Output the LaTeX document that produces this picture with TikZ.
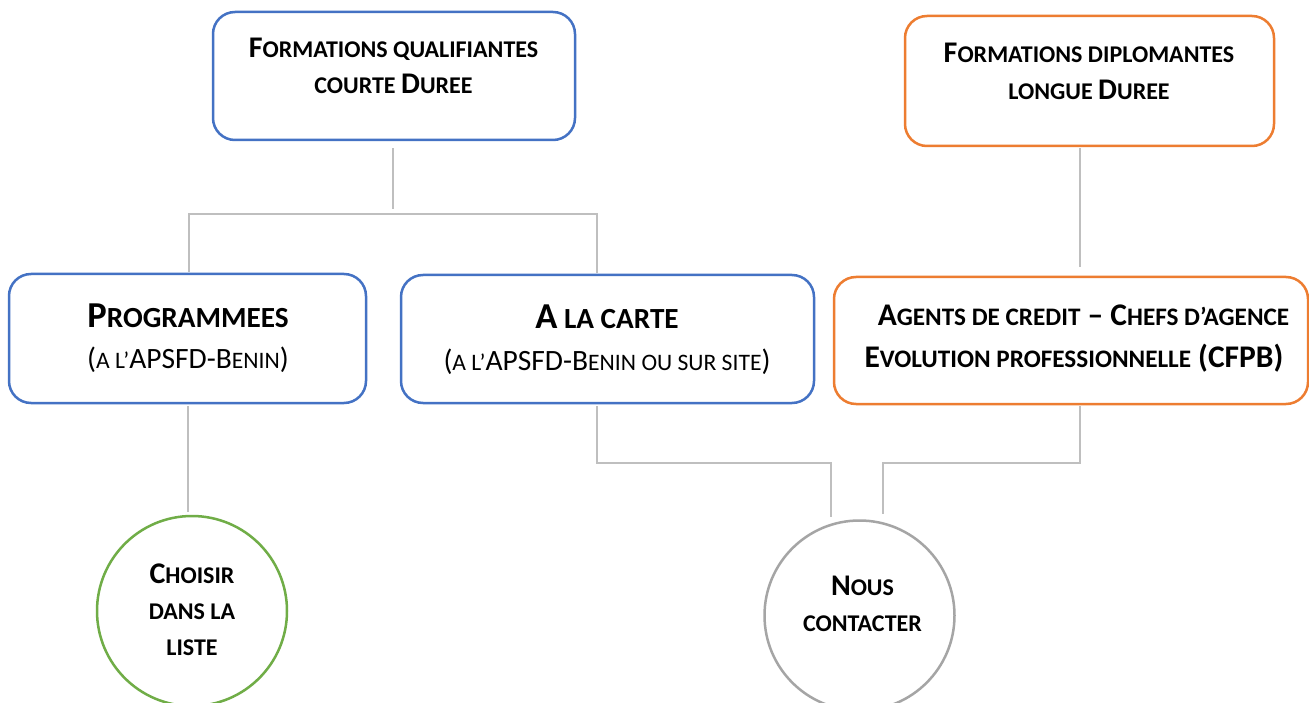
\documentclass[tikz,border=0pt]{standalone}
\usepackage{fontspec}
\setmainfont{Carlito}
\usetikzlibrary{calc}
\definecolor{cblue}{HTML}{4472C4}
\definecolor{corange}{HTML}{ED7D31}
\definecolor{cgreen}{HTML}{70AD47}
\definecolor{ccirc}{HTML}{A5A5A5}
\definecolor{cline}{HTML}{BFBFBF}
\makeatletter
\newcommand\sm[1]{{\edef\smsz{\fpeval{0.8*\f@size}}\fontsize{\smsz}{\smsz}\selectfont #1}}
\makeatother
\tikzset{
  rbox/.style={draw=#1, line width=2.5pt, rounded corners=22pt, fill=white, inner sep=0pt},
  circ/.style={circle, draw=#1, line width=2.5pt, minimum size=190pt, inner sep=0pt, fill=white},
  conn/.style={draw=cline, line width=2.5pt},
  ln/.style={anchor=base, inner sep=0pt},
  hd/.style={ln, font=\fontsize{30}{30}\selectfont\bfseries},
  big/.style={ln, font=\fontsize{36.5}{36}\selectfont\bfseries},
  sub/.style={ln, font=\fontsize{29.5}{29}\selectfont},
  ag/.style={ln, font=\fontsize{31.5}{31}\selectfont\bfseries},
  ci/.style={ln, font=\fontsize{30}{30}\selectfont\bfseries}
}
\begin{document}
\begin{tikzpicture}[x=1pt,y=-1pt]
\useasboundingbox[fill=white] (0,0) rectangle (1309,703);
% boxes
\node[rbox=cblue, minimum width=362pt, minimum height=128pt] (q) at (394,76) {};
\node[rbox=corange, minimum width=369pt, minimum height=130pt] (d) at (1089.5,81) {};
\node[rbox=cblue, minimum width=357pt, minimum height=129pt] (p) at (187.5,338.5) {};
\node[rbox=cblue, minimum width=413pt, minimum height=128pt] (c) at (607.5,339) {};
\node[rbox=corange, minimum width=474pt, minimum height=127pt] (a) at (1071,340.5) {};
\node[circ=cgreen] (ch) at (192,611) {};
\node[circ=ccirc] (nc) at (859.5,615.5) {};
% texts
\node[hd] (q1) at (393.5,58) {F\sm{ORMATIONS QUALIFIANTES}};
\node[hd] (q2) at (393.5,94) {\sm{COURTE }D\sm{UREE}};
\node[hd] (d1) at (1089,63) {F\sm{ORMATIONS DIPLOMANTES}};
\node[hd] (d2) at (1089,100) {\sm{LONGUE }D\sm{UREE}};
\node[big] (p1) at (188,327) {P\sm{ROGRAMMEES}};
\node[sub] (p2) at (188,368) {(\sm{A L’}APSFD-B\sm{ENIN})};
\node[big] (c1) at (607,328) {A\sm{ LA CARTE}};
\node[sub] (c2) at (607,370) {(\sm{A L’}APSFD-B\sm{ENIN OU SUR SITE})};
\node[ag] (a1) at (1083.5,325) {A\sm{GENTS DE CREDIT} – C\sm{HEFS D’AGENCE}};
\node[ag] (a2) at (1074,367) {E\sm{VOLUTION PROFESSIONNELLE} (CFPB)};
\node[ci] (ch1) at (192,583) {C\sm{HOISIR}};
\node[ci] (ch2) at (192,619) {\sm{DANS LA}};
\node[ci] (ch3) at (192,655) {\sm{LISTE}};
\node[ci] (nc1) at (862.5,595) {N\sm{OUS}};
\node[ci] (nc2) at (862.5,631) {\sm{CONTACTER}};
% connectors
\coordinate (jl) at (189,214);
\coordinate (jr) at (597,214);
\coordinate (jb1) at (831,463);
\coordinate (jb2) at (883,463);
\draw[conn] ($(q.south)+(-1,7)$) -- ($(q.south)+(-1,68)$);
\draw[conn] ($(p.north)+(1.5,-1)$) -- (jl) -- (jr) -- ($(c.north)+(-10.5,-1)$);
\draw[conn] ($(d.south)+(-9.5,1)$) -- ($(a.north)+(9,-9)$);
\draw[conn] ($(p.south)+(0.5,2)$) -- ($(ch.north)+(-4,-3)$);
\draw[conn] ($(c.south)+(-10.5,2)$) |- (jb1) -- ($(nc.north)+(-28.5,-2)$);
\draw[conn] ($(a.south)+(9,1)$) |- (jb2) -- ($(nc.north)+(23.5,-5)$);
\end{tikzpicture}
\end{document}
